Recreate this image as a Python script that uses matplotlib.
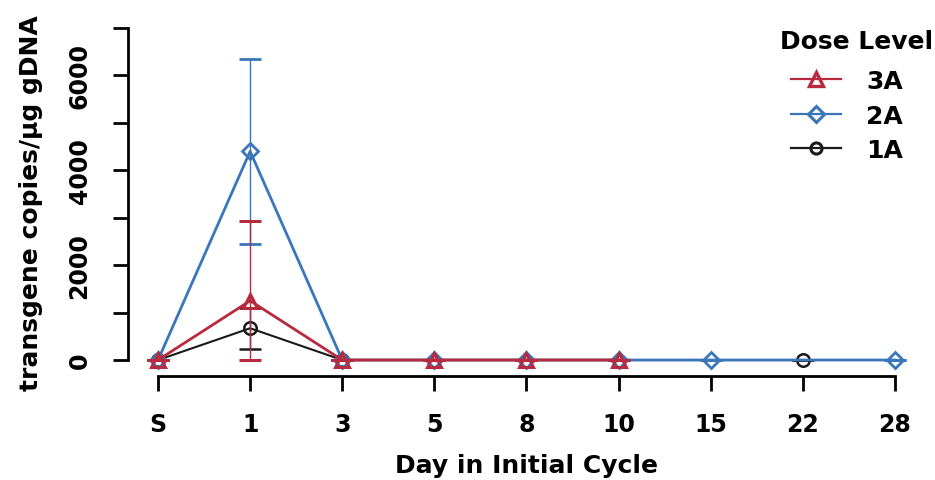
import matplotlib
matplotlib.use("Agg")
import matplotlib.pyplot as plt
from matplotlib.lines import Line2D
import numpy as np

plt.rcParams['font.family'] = ['DejaVu Sans']
plt.rcParams['font.weight'] = 'bold'

days = ["S", "1", "3", "5", "8", "10", "15", "22", "28"]

# dose level 3A
x_3a = ["S", "1", "3", "5", "8", "10"]
y_3a = [0, 1250, 0, 0, 0, 0]
lo_3a = [0, 1250, 0, 0, 0, 0]
hi_3a = [0, 1690, 0, 0, 0, 0]

# dose level 2A (no sample on day 22)
x_2a = ["S", "1", "3", "5", "8", "10", "15", "28"]
y_2a = [0, 4400, 0, 0, 0, 0, 0, 0]
err_2a = [0, 1950, 0, 0, 0, 0, 0, 0]

# dose level 1A
x_1a = ["S", "1", "3", "22"]
y_1a = [0, 670, 0, 0]
err_1a = [0, 435, 0, 0]

red = "#b82a3d"
blue = "#3b76ba"
black = "#1a1a1a"

pos = {d: i for i, d in enumerate(days)}

fig = plt.figure(figsize=(9.35, 4.81), dpi=100)
ax = fig.add_axes([0.1365, 0.2162, 0.8532, 0.7235])

# 1A drawn first, then 2A, 3A on top
ax.errorbar([pos[d] for d in x_1a], y_1a, yerr=err_1a, color=black, lw=1.5,
            elinewidth=1.0, capsize=8, marker="o", ms=9, mfc="none", mew=1.8,
            zorder=2)
ax.errorbar([pos[d] for d in x_2a], y_2a, yerr=err_2a, color=blue, lw=2.0,
            elinewidth=1.0, capsize=8, marker="D", ms=8, mfc="none", mew=2.0,
            zorder=3)
ax.errorbar([pos[d] for d in x_3a], y_3a, yerr=[lo_3a, hi_3a], color=red, lw=2.0,
            elinewidth=1.0, capsize=8, marker="^", ms=10, mfc="none", mew=2.2,
            zorder=4)

ax.set_xlim(-0.33, 8.33)
ax.set_ylim(-337, 7000)

for s in ["top", "right"]:
    ax.spines[s].set_visible(False)
ax.spines["left"].set_bounds(0, 7000)
ax.spines["bottom"].set_bounds(0, 8)
ax.spines["left"].set_linewidth(2)
ax.spines["bottom"].set_linewidth(2)

ax.set_xticks(range(len(days)))
ax.set_xticklabels(days)
yt = np.arange(0, 7001, 1000)
ax.set_yticks(yt)
ax.set_yticklabels([str(v) if v % 2000 == 0 and v < 7000 else "" for v in yt],
                   rotation=90, va="center")
ax.tick_params(axis="both", length=11, width=2, colors="black", labelsize=17)
ax.tick_params(axis="x", pad=15)
ax.tick_params(axis="y", pad=15)

ax.set_xlabel("Day in Initial Cycle", fontsize=18, fontweight="bold", labelpad=12)
ax.set_ylabel("transgene copies/μg gDNA", fontsize=18, fontweight="bold", labelpad=18)

handles = [
    Line2D([], [], color=red, lw=1.6, marker="^", ms=10, mfc="none", mew=2.4),
    Line2D([], [], color=blue, lw=1.6, marker="D", ms=8, mfc="none", mew=2.2),
    Line2D([], [], color=black, lw=1.6, marker="o", ms=8, mfc="none", mew=2.2),
]
ax.legend(handles, ["3A", "2A", "1A"], loc="upper left",
          bbox_to_anchor=(791 / 935, 1 - 70 / 481), bbox_transform=fig.transFigure,
          frameon=False, fontsize=18, borderpad=0, borderaxespad=0,
          handlelength=2.0, handletextpad=1.0, labelspacing=0.42)
fig.text(780 / 935, 1 - 42 / 481, "Dose Level", fontsize=18, fontweight="bold",
         ha="left", va="center")

fig.savefig("out.png", dpi=100)
